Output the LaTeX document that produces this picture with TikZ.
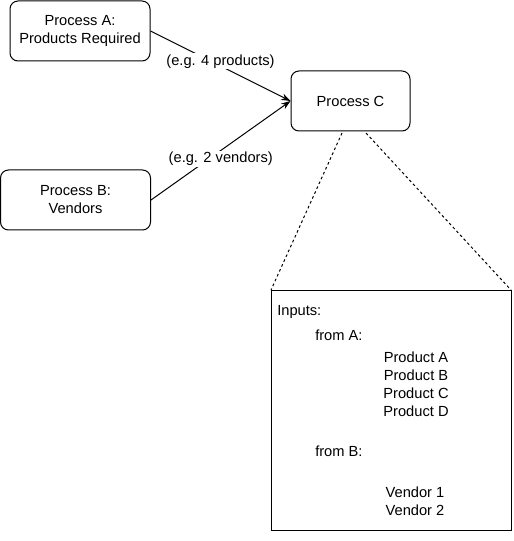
\documentclass[tikz,border=0pt]{standalone}
\usepackage{fontspec}
\setmainfont{Liberation Sans}
\usetikzlibrary{arrows.meta}
\begin{document}
\begin{tikzpicture}[x=0.75pt,y=-0.75pt,
  font=\fontsize{11}{13.5}\selectfont,
  proc/.style={draw,rounded corners=6pt,line width=0.75pt,align=center,minimum width=112.5pt,minimum height=45pt,inner sep=0pt},
  elbl/.style={fill=white,inner sep=1pt},
  arr/.style={-{Stealth[length=7pt,width=5pt]},line width=0.75pt},
  dsh/.style={dash pattern=on 2pt off 2pt,line width=0.75pt},
  txt/.style={inner sep=0pt}]
\useasboundingbox (0,0) rectangle (513,541);
\node[proc,minimum width=105pt] (A) at (80,31) {Process A:\\Products Required};
\node[proc] (B) at (75.5,200) {Process B:\\Vendors};
\node[proc,minimum width=89.25pt] (C) at (350.5,101) {Process C};
\draw[line width=0.75pt] (271,290) rectangle (511,530);
\coordinate (dl) at (271,290);
\coordinate (dr) at (511,290);
\coordinate (cl) at (342,133);
\coordinate (cr) at (366,133);
\draw[arr] (A.east) -- node[elbl,pos=0.5,yshift=3.5pt] {(e.g. 4 products)} (C.west);
\draw[arr] (B.east) -- node[elbl,pos=0.5,yshift=-6.5pt] {(e.g. 2 vendors)} (C.west);
\draw[dsh] (cl) -- (dl);
\draw[dsh] (cr) -- (dr);
\node[txt,anchor=west] (in) at (277,312) {Inputs:};
\node[txt,anchor=west] (fa) at (315,335) {from A:};
\node[txt] (pa) at (416,357) {Product A};
\node[txt] (pb) at (416,375) {Product B};
\node[txt] (pc) at (416,393) {Product C};
\node[txt] (pd) at (416,411) {Product D};
\node[txt,anchor=west] (fb) at (315,451) {from B:};
\node[txt] (v1) at (415,492) {Vendor 1};
\node[txt] (v2) at (415,510) {Vendor 2};
\end{tikzpicture}
\end{document}
